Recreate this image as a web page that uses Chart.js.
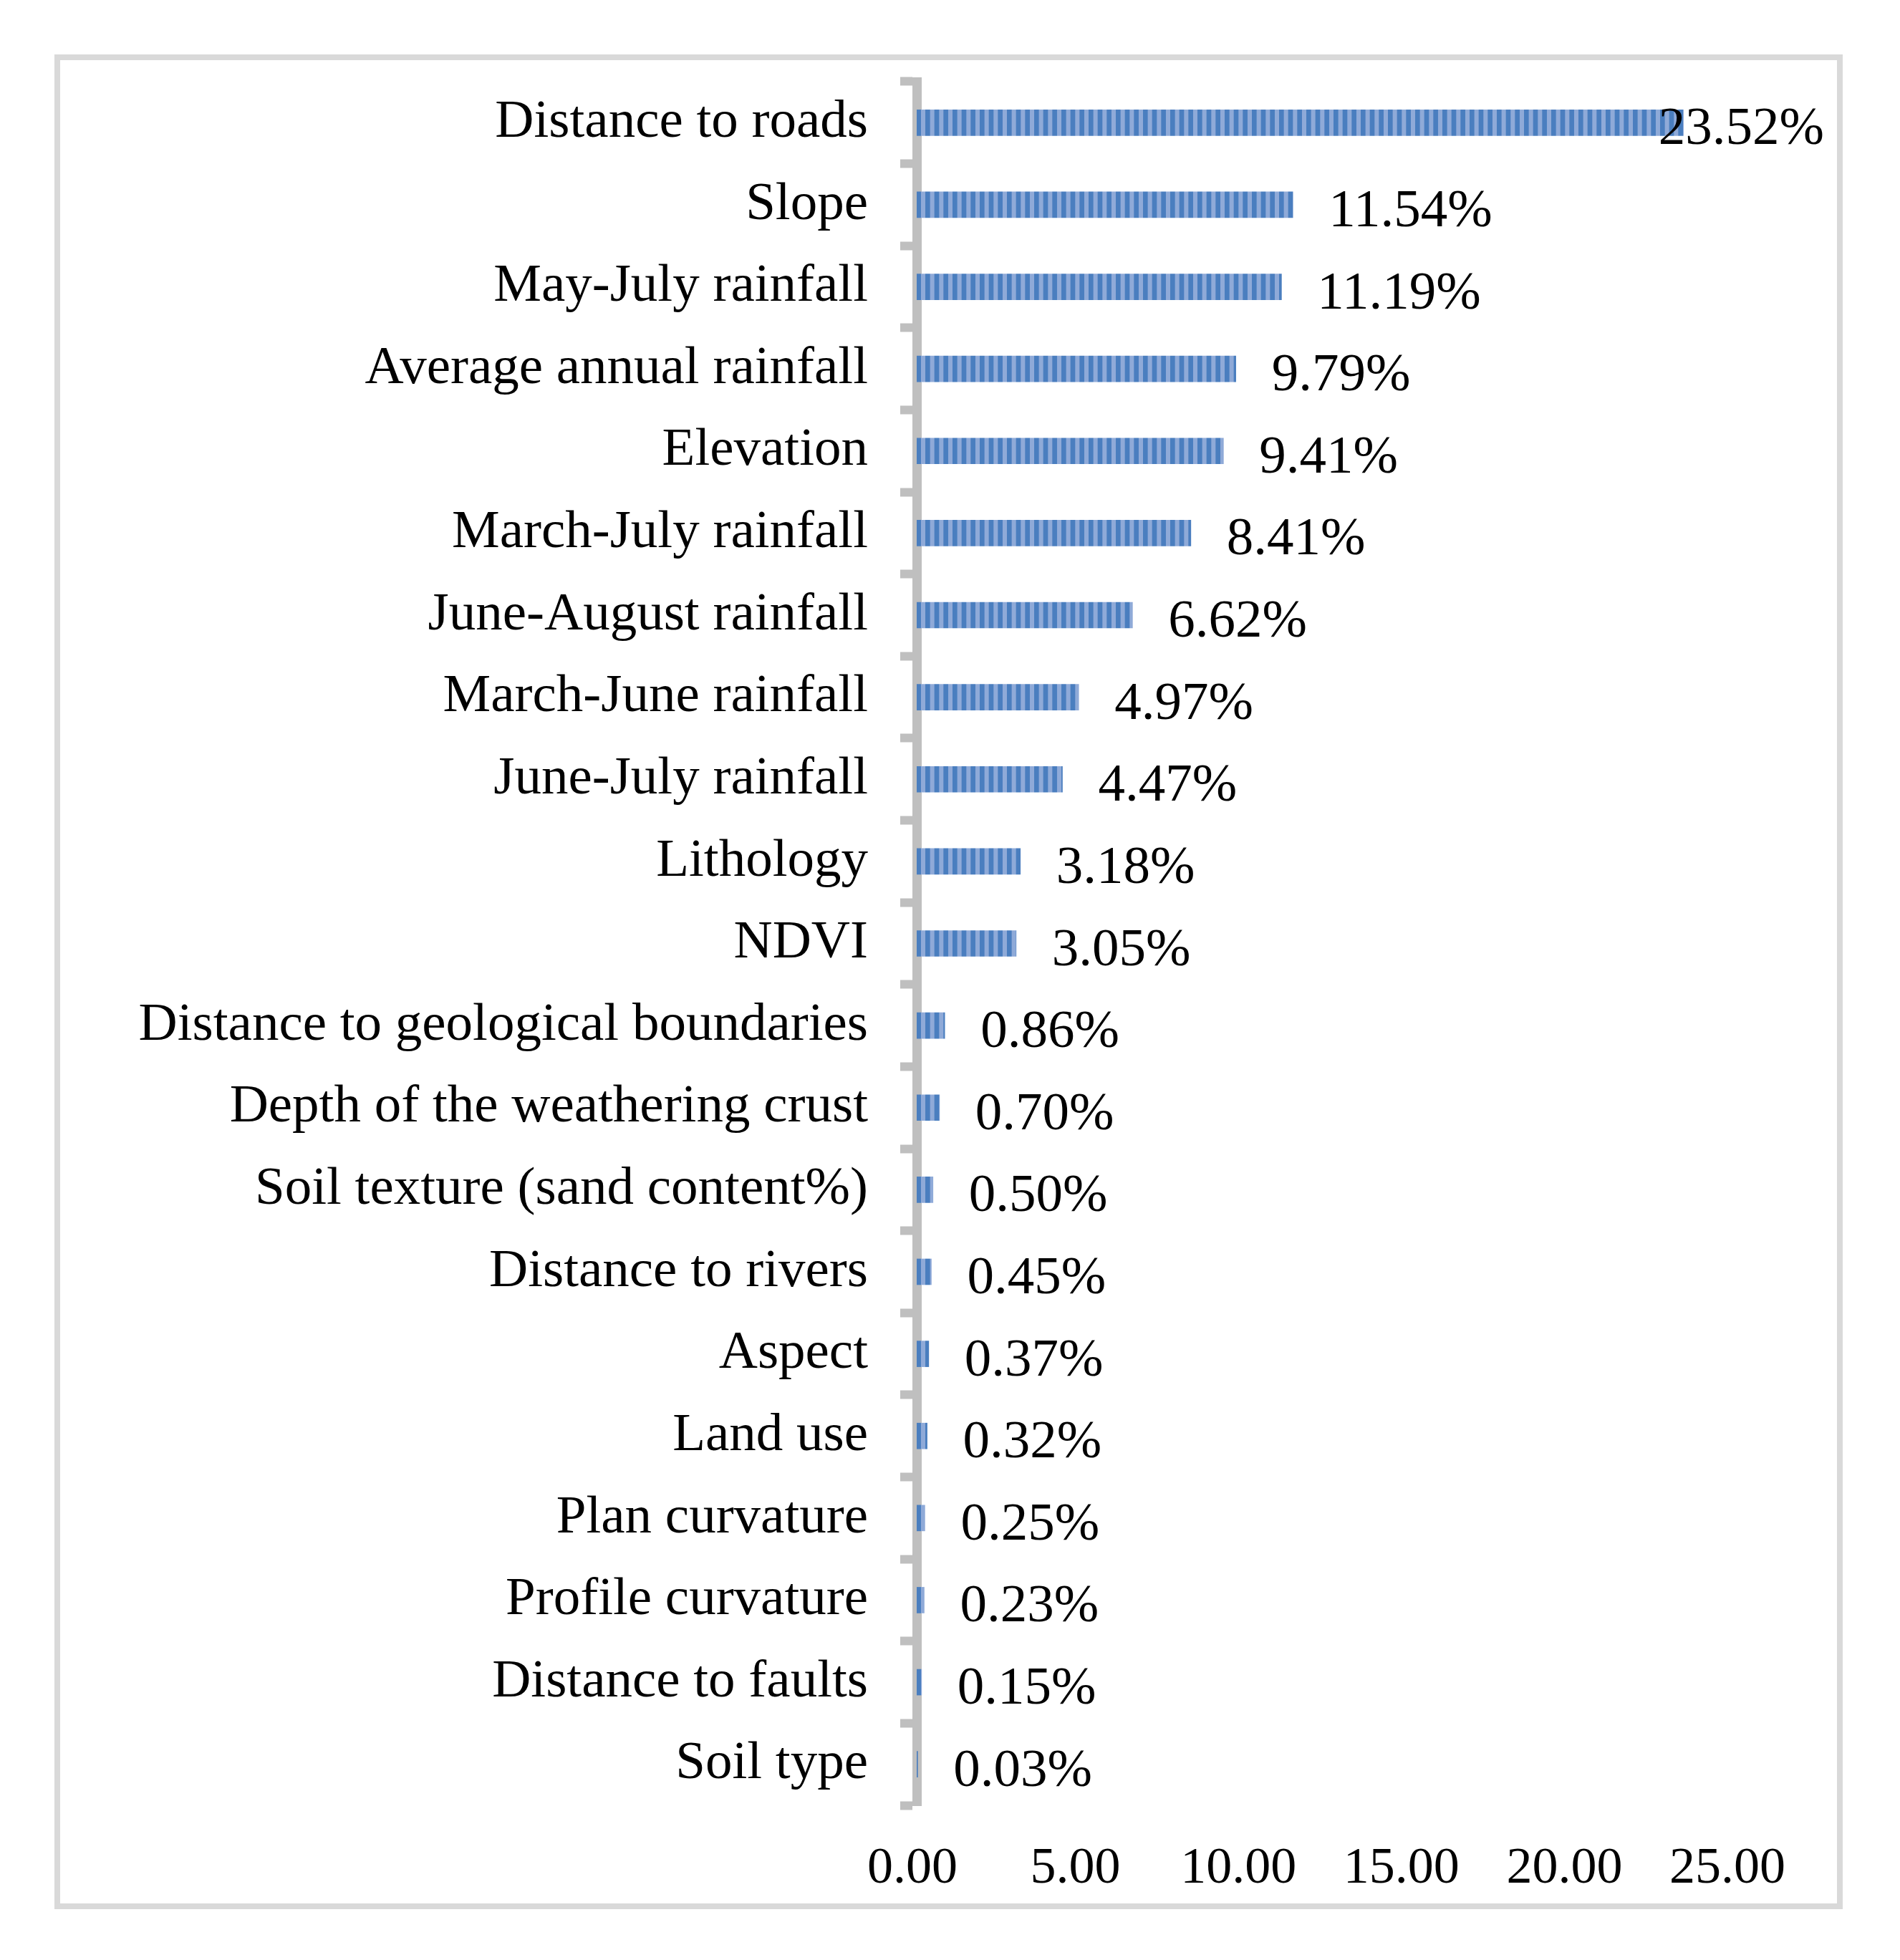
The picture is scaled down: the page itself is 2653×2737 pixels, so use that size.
<!DOCTYPE html>
<html>
<head>
<meta charset="utf-8">
<script src="https://cdn.jsdelivr.net/npm/chart.js@4.4.1/dist/chart.umd.min.js"></script>
<style>
  html, body { margin: 0; padding: 0; background: #fff; }
  #wrap { width: 2653px; height: 2737px; position: relative; }
</style>
</head>
<body>
<div id="wrap"><canvas id="chart"></canvas></div>
<script>
const categories = [
  "Distance to roads", "Slope", "May-July rainfall", "Average annual rainfall",
  "Elevation", "March-July rainfall", "June-August rainfall", "March-June rainfall",
  "June-July rainfall", "Lithology", "NDVI", "Distance to geological boundaries",
  "Depth of the weathering crust", "Soil texture (sand content%)", "Distance to rivers",
  "Aspect", "Land use", "Plan curvature", "Profile curvature", "Distance to faults",
  "Soil type"
];
const importance = [
  23.52, 11.54, 11.19, 9.79, 9.41, 8.41, 6.62, 4.97, 4.47, 3.18, 3.05,
  0.86, 0.70, 0.50, 0.45, 0.37, 0.32, 0.25, 0.23, 0.15, 0.03
];
const xTicks = [0, 5, 10, 15, 20, 25];

const serif = '"Liberation Serif", "Times New Roman", serif';

// striped fill like the Excel "narrow vertical" pattern
function stripes() {
  const c = document.createElement("canvas");
  c.width = 38; c.height = 36;
  const g = c.getContext("2d");
  g.fillStyle = "#8faad8";
  g.fillRect(0, 0, 38, 36);
  g.fillStyle = "#4a7ebf";
  for (let i = 0; i < 3; i++) g.fillRect(i * 38 / 3, 0, 38 / 6 + 0.3, 36);
  return g.createPattern(c, "repeat");
}

const frame = {
  id: "frame",
  beforeDraw(chart) {
    const ctx = chart.ctx;
    ctx.save();
    ctx.fillStyle = "#fff";
    ctx.fillRect(0, 0, chart.width, chart.height);
    ctx.strokeStyle = "#d9d9d9";
    ctx.lineWidth = 8;
    ctx.strokeRect(80, 80, 2489, 2582);
    ctx.restore();
  }
};

const valueLabels = {
  id: "valueLabels",
  afterDatasetsDraw(chart) {
    const ctx = chart.ctx;
    const meta = chart.getDatasetMeta(0);
    ctx.save();
    ctx.font = "75px " + serif;
    ctx.fillStyle = "#000";
    ctx.textBaseline = "alphabetic";
    ctx.textAlign = "left";
    meta.data.forEach((bar, i) => {
      const txt = importance[i].toFixed(2) + "%";
      const w = ctx.measureText(txt).width;
      const x = Math.min(bar.x + 50, 2547 - w);
      ctx.fillText(txt, x, bar.y + 30);
    });
    ctx.restore();
  }
};

new Chart(document.getElementById("chart").getContext("2d"), {
  type: "bar",
  data: {
    labels: categories,
    datasets: [{
      data: importance,
      backgroundColor: stripes(),
      borderWidth: 0,
      barThickness: 36
    }]
  },
  options: {
    indexAxis: "y",
    responsive: true,
    maintainAspectRatio: false,
    devicePixelRatio: 1,
    animation: false,
    layout: { padding: { top: 114, right: 235, bottom: 0, left: 0 } },
    plugins: { legend: { display: false }, tooltip: { enabled: false } },
    scales: {
      x: {
        min: 0,
        max: 25,
        afterBuildTicks(s) { s.ticks = xTicks.map(v => ({ value: v })); },
        ticks: {
          padding: 46,
          labelOffset: -6,
          color: "#000",
          font: { family: serif, size: 72 },
          callback: v => Number(v).toFixed(2)
        },
        grid: { display: false, drawTicks: false },
        border: { display: false },
        afterFit(s) { s.height = 216; }
      },
      y: {
        z: 1,
        ticks: {
          padding: 45,
          color: "#000",
          font: { family: serif, size: 75 }
        },
        grid: {
          offset: true,
          drawOnChartArea: false,
          drawTicks: true,
          tickLength: 23,
          tickWidth: 12,
          tickColor: "#bfbfbf"
        },
        border: { display: true, color: "#bfbfbf", width: 13 },
        afterFit(s) { s.width = 1280; }
      }
    }
  },
  plugins: [frame, valueLabels]
});
</script>
</body>
</html>
